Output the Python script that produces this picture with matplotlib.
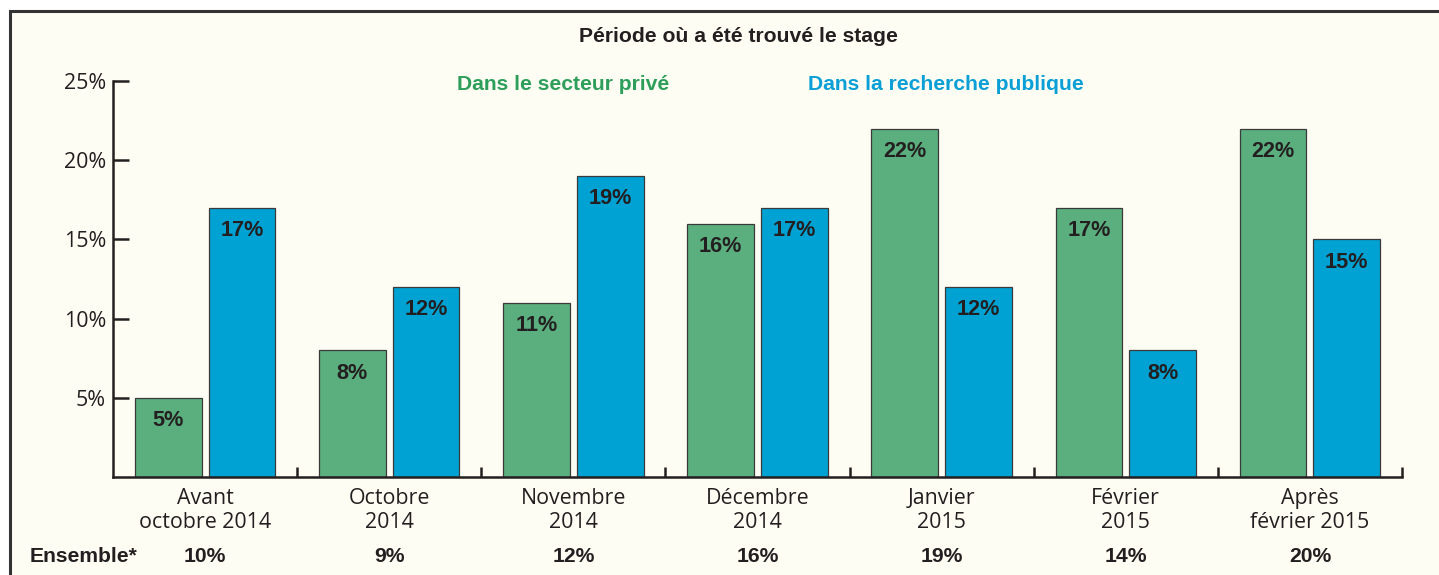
import matplotlib.pyplot as plt
import numpy as np
from matplotlib.patches import Rectangle
from matplotlib.transforms import blended_transform_factory

# data
categories = ['Avant\noctobre 2014', 'Octobre\n2014', 'Novembre\n2014', 'Décembre\n2014',
              'Janvier\n2015', 'Février\n2015', 'Après\nfévrier 2015']
prive = [5, 8, 11, 16, 22, 17, 22]
public = [17, 12, 19, 17, 12, 8, 15]
ensemble = [10, 9, 12, 16, 19, 14, 20]

green = '#5BAF7E'
blue = '#00A2D3'
dark = '#231F20'
cream = '#FDFDF4'
bold_size = 15.2
reg_size = 15.4

fig = plt.figure(figsize=(14.39, 5.75), dpi=100)
fig.patch.set_facecolor('white')

# cream panel with border on top / left (cut off on right and bottom)
fig.patches.append(Rectangle((9.5 / 1439, -0.1), 1.2, 0.1 + 1 - 11 / 575,
                             transform=fig.transFigure, facecolor=cream,
                             edgecolor='#333333', lw=2.2, zorder=-5))

ax = fig.add_axes([113 / 1439, 98 / 575, 1289 / 1439, 396 / 575])
ax.set_facecolor('none')
ax.set_zorder(2)

x = np.arange(len(categories))
w = 0.362
b1 = ax.bar(x - 0.2, prive, w, color=green, edgecolor='#3a3a3a', linewidth=0.9, zorder=2)
b2 = ax.bar(x + 0.2, public, w, color=blue, edgecolor='#3a3a3a', linewidth=0.9, zorder=2)

for bars, vals in [(b1, prive), (b2, public)]:
    for rect, v in zip(bars, vals):
        ax.annotate(f'{v}%', (rect.get_x() + rect.get_width() / 2, v),
                    xytext=(0, -16.5), textcoords='offset points',
                    ha='center', va='center', fontsize=15.6, fontweight='bold',
                    family='Liberation Sans', color=dark, zorder=3)

ax.set_xlim(-0.5, 6.5)
ax.set_ylim(0, 25)

for s in ['top', 'right']:
    ax.spines[s].set_visible(False)
for s in ['left', 'bottom']:
    ax.spines[s].set_linewidth(1.8)
    ax.spines[s].set_color(dark)

ax.set_yticks([5, 10, 15, 20, 25])
ax.set_yticklabels(['5%', '10%', '15%', '20%', '25%'], family='Open Sans', fontsize=reg_size, color=dark)
ax.tick_params(axis='y', direction='in', length=11.5, width=1.8, color=dark, pad=5)

ax.set_xticks(np.arange(0.5, 7, 1.0))
ax.set_xticklabels([])
ax.tick_params(axis='x', which='major', direction='in', length=7.5, width=1.8, color=dark)
ax.set_xticks(x, minor=True)
ax.set_xticklabels(categories, minor=True, family='Open Sans', fontsize=reg_size,
                   color=dark, linespacing=1.18)
ax.tick_params(axis='x', which='minor', length=0, pad=8)

# Ensemble row
tr = blended_transform_factory(ax.transData, fig.transFigure)
for xi, v in zip(x, ensemble):
    ax.text(xi, 1 - 556 / 575, f'{v}%', transform=tr, ha='center', va='center',
            fontsize=bold_size, fontweight='bold', family='Liberation Sans', color=dark)
fig.text(30 / 1439, 1 - 556 / 575, 'Ensemble*', ha='left', va='center',
         fontsize=bold_size, fontweight='bold', family='Liberation Sans', color=dark)

fig.text(738 / 1439, 1 - 37 / 575, 'Période où a été trouvé le stage', ha='center', va='center',
         fontsize=bold_size, fontweight='bold', family='Liberation Sans', color=dark)
fig.text(563 / 1439, 1 - 84 / 575, 'Dans le secteur privé', ha='center', va='center',
         fontsize=bold_size, fontweight='bold', family='Liberation Sans', color='#2E9E5B')
fig.text(946 / 1439, 1 - 84 / 575, 'Dans la recherche publique', ha='center', va='center',
         fontsize=bold_size, fontweight='bold', family='Liberation Sans', color='#0A9FD6')

fig.savefig('out.png', dpi=100)
